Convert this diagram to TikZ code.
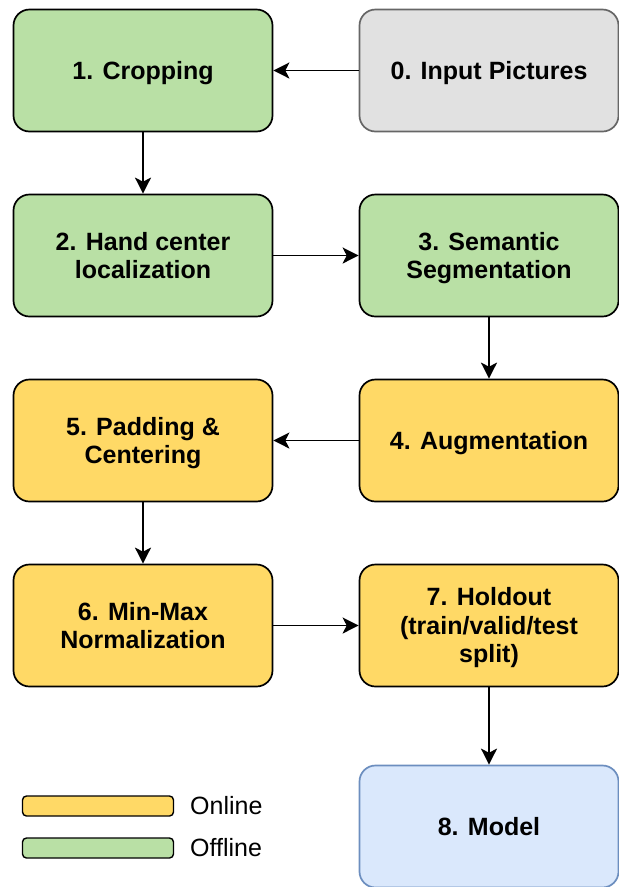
\documentclass[tikz,border=0pt]{standalone}
\usepackage{fontspec}
\setmainfont{Liberation Sans}
\usetikzlibrary{arrows.meta}
\definecolor{gfill}{HTML}{B9E0A5}
\definecolor{yfill}{HTML}{FFD966}
\definecolor{grfill}{HTML}{E1E1E1}
\definecolor{grline}{HTML}{666666}
\definecolor{bfill}{HTML}{DAE8FC}
\definecolor{bline}{HTML}{6C8EBF}
\newcommand{\lnstrut}{\rule[-5pt]{0pt}{28pt}}
\tikzset{
  x=1pt, y=-1pt,
  box/.style={draw=black, line width=1.7pt, rounded corners=16pt, minimum width=259pt, minimum height=122pt, align=center, inner sep=2pt, font=\bfseries\fontsize{25}{28.5}\selectfont},
  green/.style={box, fill=gfill},
  yellow/.style={box, fill=yfill},
  conn/.style={line width=1.8pt, -{Stealth[length=16pt, width=16pt, inset=4pt]}},
  legbar/.style={draw=black, line width=1.4pt, rounded corners=4pt, minimum width=151pt, minimum height=20pt, inner sep=0pt},
  legtext/.style={anchor=west, inner sep=0pt, font=\fontsize{25}{28}\selectfont}
}
\begin{document}
\begin{tikzpicture}
\useasboundingbox (0,0) rectangle (619,887);
\fill[white] (0,0) rectangle (619,887);
\begin{scope}
\clip (0,0) rectangle (619,887);
\node[green] (n1) at (143,70.5) {\lnstrut 1. Cropping};
\node[box, fill=grfill, draw=grline] (n0) at (489,70.5) {\lnstrut 0. Input Pictures};
\node[green] (n2) at (143,255.5) {\lnstrut 2. Hand center\\\lnstrut localization};
\node[green] (n3) at (489,255.5) {\lnstrut 3. Semantic\\\lnstrut Segmentation};
\node[yellow] (n5) at (143,440.5) {\lnstrut 5. Padding \&\\\lnstrut Centering};
\node[yellow] (n4) at (489,440.5) {\lnstrut 4. Augmentation};
\node[yellow] (n6) at (143,625.5) {\lnstrut 6. Min-Max\\\lnstrut Normalization};
\node[yellow] (n7) at (489,625.5) {\lnstrut 7. Holdout\\\lnstrut (train/valid/test\\\lnstrut split)};
\node[box, fill=bfill, draw=bline] (n8) at (489,826.5) {\lnstrut 8. Model};
\end{scope}
\draw[conn] (n0) -- (n1);
\draw[conn] (n1) -- (n2);
\draw[conn] (n2) -- (n3);
\draw[conn] (n3) -- (n4);
\draw[conn] (n4) -- (n5);
\draw[conn] (n5) -- (n6);
\draw[conn] (n6) -- (n7);
\draw[conn] (n7) -- (n8);
\node[legbar, fill=yfill] (lon) at (98,806) {};
\node[legbar, fill=gfill] (loff) at (98,848) {};
\node[legtext] (ton) at (190,806) {Online};
\node[legtext] (toff) at (190,848) {Offline};
\end{tikzpicture}
\end{document}
